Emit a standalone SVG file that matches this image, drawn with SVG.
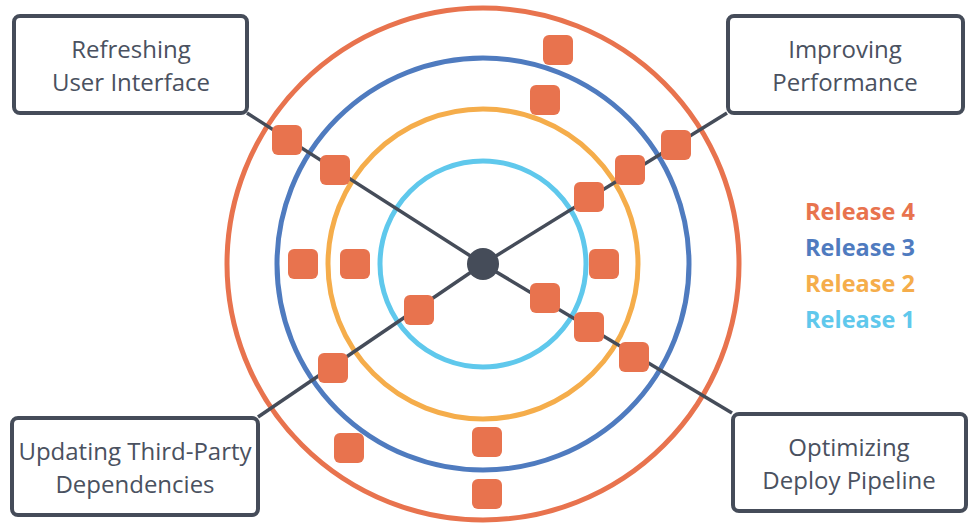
<svg xmlns="http://www.w3.org/2000/svg" width="980" height="526" viewBox="0 0 980 526">
<style>
.ring{fill:none;stroke-width:5}
.sq{fill:#e8734e}
.box{fill:#fff;stroke:#454c59;stroke-width:4}
.lbl{font-family:"Open Sans","Liberation Sans",sans-serif;font-size:24px;fill:#4a5160;text-anchor:middle}
.leg{font-family:"Open Sans","Liberation Sans",sans-serif;font-size:23.5px;font-weight:bold;text-anchor:middle}
.ln{stroke:#454c59;stroke-width:3.5;fill:none}
</style>
<defs>
<rect id="s" x="-15" y="-15" width="30" height="30" rx="6" class="sq"/>
</defs>
<g id="rings">
<circle cx="483" cy="264" r="256" class="ring" stroke="#e8734e"/>
<circle cx="483" cy="264" r="206" class="ring" stroke="#4f7bbf"/>
<circle cx="483" cy="264" r="155" class="ring" stroke="#f5ad4b"/>
<circle cx="483" cy="264" r="103" class="ring" stroke="#5fc8ec"/>
</g>
<g id="connectors">
<line x1="247" y1="113" x2="483" y2="264" class="ln"/>
<line x1="727" y1="113" x2="483" y2="264" class="ln"/>
<line x1="258" y1="417" x2="483" y2="264" class="ln"/>
<line x1="732" y1="413" x2="483" y2="264" class="ln"/>
</g>
<g id="items">
<use href="#s" x="287" y="140"/>
<use href="#s" x="335" y="170"/>
<use href="#s" x="558" y="50"/>
<use href="#s" x="545" y="100"/>
<use href="#s" x="676" y="145"/>
<use href="#s" x="630" y="170"/>
<use href="#s" x="589" y="197"/>
<use href="#s" x="303" y="264"/>
<use href="#s" x="355" y="264"/>
<use href="#s" x="604" y="264"/>
<use href="#s" x="545" y="298"/>
<use href="#s" x="589" y="327"/>
<use href="#s" x="634" y="357"/>
<use href="#s" x="419" y="310"/>
<use href="#s" x="333" y="368"/>
<use href="#s" x="349" y="448"/>
<use href="#s" x="487" y="442"/>
<use href="#s" x="487" y="494"/>
</g>
<g id="center"><circle cx="483" cy="264" r="16" fill="#454c59"/></g>
<g id="n-refresh">
<rect x="14" y="16" width="233" height="97" rx="6" class="box"/>
<text x="131" y="58" class="lbl">Refreshing</text>
<text x="131" y="91" class="lbl">User Interface</text>
</g>
<g id="n-perf">
<rect x="728" y="16" width="235" height="97" rx="6" class="box"/>
<text x="845" y="58" class="lbl">Improving</text>
<text x="845" y="91" class="lbl">Performance</text>
</g>
<g id="n-deps">
<rect x="12" y="418" width="246" height="97" rx="6" class="box"/>
<text x="135" y="460" class="lbl">Updating Third-Party</text>
<text x="135" y="493" class="lbl">Dependencies</text>
</g>
<g id="n-deploy">
<rect x="733" y="414" width="233" height="97" rx="6" class="box"/>
<text x="849" y="456" class="lbl">Optimizing</text>
<text x="849" y="489" class="lbl">Deploy Pipeline</text>
</g>
<g id="legend">
<text x="860" y="220" class="leg" fill="#e8734e">Release 4</text>
<text x="860" y="256" class="leg" fill="#4f7bbf">Release 3</text>
<text x="860" y="292" class="leg" fill="#f5ad4b">Release 2</text>
<text x="860" y="328" class="leg" fill="#5fc8ec">Release 1</text>
</g>
</svg>
